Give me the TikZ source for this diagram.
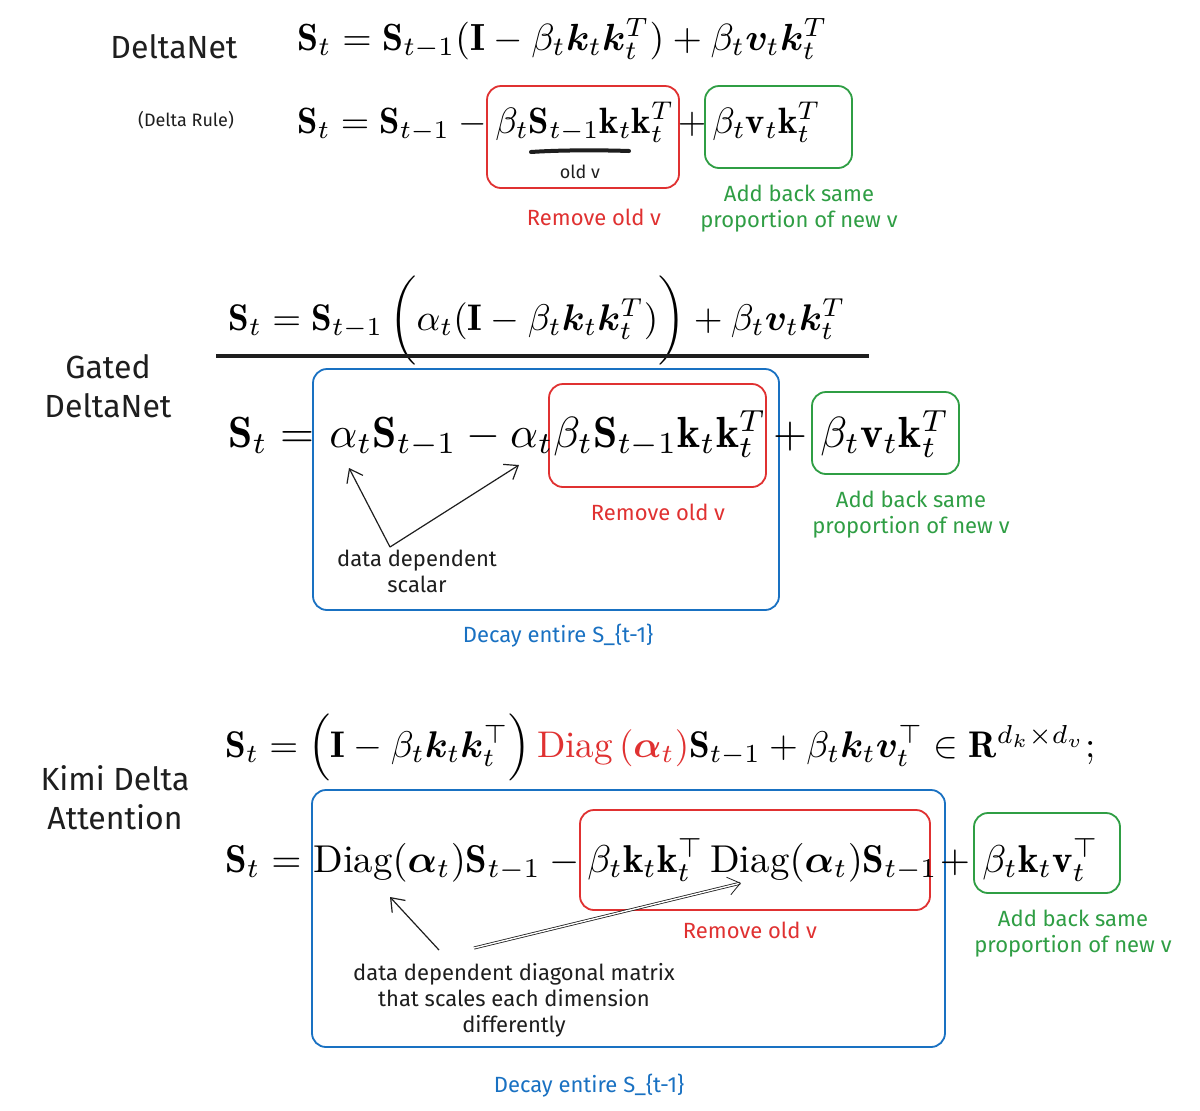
\documentclass[tikz,border=0pt]{standalone}
\usepackage{amsmath,amssymb,bm,graphicx}
\usepackage{fontspec}
\newfontfamily\handfont{Fira Sans}
\usetikzlibrary{arrows.meta}
\definecolor{exred}{HTML}{E03131}
\definecolor{exgreen}{HTML}{2F9E44}
\definecolor{exblue}{HTML}{1971C2}
\definecolor{ink}{HTML}{1E1E1E}
\newlength\pxu \setlength\pxu{0.5pt}
\newcommand\mathtwo[1]{\scalebox{1.83}{$#1$}}
\newcommand\mathfour[1]{\scalebox{2.18}{$#1$}}
\newcommand\mathsix[1]{\scalebox{1.94}{$#1$}}
\begin{document}
\begin{tikzpicture}[x=0.5pt,y=-0.5pt,
  title/.style={font=\handfont\fontsize{16}{19.5}\selectfont, text=ink, inner sep=0pt, align=center},
  note/.style={font=\handfont\fontsize{11}{13}\selectfont, inner sep=0pt, align=center},
  tiny/.style={font=\handfont\fontsize{9}{11}\selectfont, text=ink, inner sep=0pt},
  eqpart/.style={anchor=base west, inner sep=0pt},
  box/.style={rounded corners=7pt, line width=0.9pt},
  arr/.style={-{Straight Barb[length=6pt,width=9pt]}, line width=0.6pt, draw=ink},
  dblarr/.style={-{Straight Barb[length=6pt,width=9pt]}, line width=0.4pt, draw=ink, double=white, double distance=0.7pt}
]
\useasboundingbox (0,0) rectangle (1200,1110);
\fill[white] (0,0) rectangle (1200,1110);

% ---------------- DeltaNet ----------------
\node[title] (dn) at (174,47) {DeltaNet};
\node[eqpart] (eq1) at (297,50) {\resizebox{530\pxu}{!}{$\mathbf{S}_t = \mathbf{S}_{t-1}(\mathbf{I} - \beta_t \bm{k}_t \bm{k}_t^{T}) + \beta_t \bm{v}_t \bm{k}_t^{T}$}};

\node[tiny] (dr) at (186,120) {(Delta Rule)};
\draw[box, exred] (487,86) rectangle (679,188);
\draw[box, exgreen] (705,86) rectangle (852,168);
\node[eqpart] (e2a) at (297,133) {\mathtwo{\mathbf{S}_t = \mathbf{S}_{t-1} - {}}};
\node[eqpart] (e2b) at (495,133) {\mathtwo{\beta_t\mathbf{S}_{t-1}\mathbf{k}_t\mathbf{k}_t^T}};
\node[eqpart, anchor=base] (e2p) at (692,133) {\mathtwo{+}};
\node[eqpart] (e2c) at (712,133) {\mathtwo{\beta_t\mathbf{v}_t\mathbf{k}_t^T}};
\draw[line width=2pt, line cap=round, ink] (531,152) .. controls (560,150) and (600,150) .. (629,151);
\node[tiny] (oldv) at (580,172) {old v};
\node[note, text=exred] (rm1) at (594,217) {Remove old v};
\node[note, text=exgreen] (ad1) at (799,209) {Add back same\\proportion of new v};

% ---------------- Gated DeltaNet ----------------
\node[eqpart] (eq3) at (228,330) {\resizebox{617\pxu}{!}{$\mathbf{S}_t = \mathbf{S}_{t-1}\,\biggl(\alpha_t(\mathbf{I} - \beta_t \bm{k}_t\bm{k}_t^T)\biggr) + \beta_t\bm{v}_t\bm{k}_t^T$}};
\draw[line width=1.6pt, ink] (216,356) -- (869,356);
\node[title] (gd) at (108,386) {Gated\\DeltaNet};

\draw[box, exblue] (313,369) rectangle (779,610);
\draw[box, exred] (549,384) rectangle (766,487);
\draw[box, exgreen] (812,392) rectangle (959,474);
\node[eqpart] (e4a) at (228,447) {\mathfour{\mathbf{S}_t =}};
\node[eqpart] (e4b) at (329,447) {\mathfour{\alpha_t\mathbf{S}_{t-1} - \alpha_t}};
\node[eqpart] (e4c) at (553,447) {\mathfour{\beta_t\mathbf{S}_{t-1}\mathbf{k}_t\mathbf{k}_t^T}};
\node[eqpart, anchor=base] (e4p) at (790,447) {\mathfour{+}};
\node[eqpart] (e4d) at (820,447) {\mathfour{\beta_t\mathbf{v}_t\mathbf{k}_t^T}};

\coordinate (gv) at (390,547);
\coordinate (gt1) at (349,468);
\coordinate (gt2) at (519,465);
\draw[arr] (gv) -- (gt1);
\draw[arr] (gv) -- (gt2);
\node[note, text=ink] (gdata) at (417,571) {data dependent\\scalar};
\node[note, text=exred] (rm2) at (658,512) {Remove old v};
\node[note, text=exgreen] (ad2) at (911,515) {Add back same\\proportion of new v};
\node[note, text=exblue] (dec2) at (558,636) {Decay entire S\_\{t-1\}};

% ---------------- Kimi Delta Attention ----------------
\node[eqpart] (eq5) at (225,757) {\resizebox{870\pxu}{!}{$\mathbf{S}_t = \Bigl(\mathbf{I} - \beta_t\bm{k}_t\bm{k}_t^{\top}\Bigr)\,\textcolor{exred}{\mathrm{Diag}\left(\bm{\alpha}_t\right)}\mathbf{S}_{t-1} + \beta_t\bm{k}_t\bm{v}_t^{\top} \in \mathbf{R}^{d_k\times d_v};$}};
\node[title] (kd) at (115,798) {Kimi Delta\\Attention};

\draw[box, exblue] (312,790) rectangle (945,1047);
\draw[box, exred] (580,810) rectangle (930,910);
\draw[box, exgreen] (974,813) rectangle (1120,893);
\node[eqpart] (e6a) at (225,872) {\mathsix{\mathbf{S}_t =}};
\node[eqpart] (e6b) at (313,872) {\mathsix{\mathrm{Diag}(\bm{\alpha}_t)\mathbf{S}_{t-1} - {}}};
\node[eqpart] (e6c) at (587,872) {\mathsix{\beta_t\mathbf{k}_t\mathbf{k}_t^{\top}\,\mathrm{Diag}(\bm{\alpha}_t)\mathbf{S}_{t-1}}};
\node[eqpart, anchor=base] (e6p) at (955,872) {\mathsix{+}};
\node[eqpart] (e6d) at (982,872) {\mathsix{\beta_t\mathbf{k}_t\mathbf{v}_t^{\top}}};

\coordinate (ks1) at (439,950);
\coordinate (kt1) at (390,897);
\coordinate (ks2) at (474,948);
\coordinate (kt2) at (741,883);
\draw[arr] (ks1) -- (kt1);
\draw[dblarr] (ks2) -- (kt2);
\node[note, text=ink] (kdata) at (514,1000) {data dependent diagonal matrix\\that scales each dimension\\differently};
\node[note, text=exred] (rm3) at (750,930) {Remove old v};
\node[note, text=exgreen] (ad3) at (1073,934) {Add back same\\proportion of new v};
\node[note, text=exblue] (dec3) at (589,1086) {Decay entire S\_\{t-1\}};
\end{tikzpicture}
\end{document}
